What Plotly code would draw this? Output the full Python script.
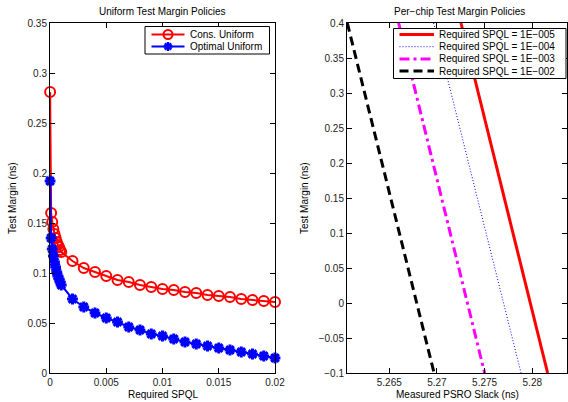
import plotly.graph_objects as go

# ---- Left panel data ----
spql = [1e-5, 1e-4, 2e-4, 3e-4, 4e-4, 5e-4, 6e-4, 7e-4, 8e-4, 9e-4, 1e-3,
        0.002, 0.003, 0.004, 0.005, 0.006, 0.007, 0.008, 0.009, 0.010,
        0.011, 0.012, 0.013, 0.014, 0.015, 0.016, 0.017, 0.018, 0.019, 0.020]
cons_uniform = [0.281, 0.160, 0.151, 0.144, 0.139, 0.135, 0.131, 0.128, 0.126, 0.123, 0.121,
                0.112, 0.105, 0.101, 0.097, 0.093, 0.091, 0.088, 0.086, 0.084,
                0.083, 0.081, 0.080, 0.078, 0.077, 0.076, 0.074, 0.073, 0.072, 0.071]
optimal_uniform = [0.192, 0.135, 0.124, 0.117, 0.111, 0.106, 0.101, 0.097, 0.094, 0.091, 0.088,
                   0.074, 0.066, 0.060, 0.055, 0.051, 0.046, 0.043, 0.039, 0.037,
                   0.034, 0.031, 0.029, 0.027, 0.025, 0.023, 0.021, 0.019, 0.017, 0.015]

# ---- Right panel data ----
margin_pts = [0.4, -0.1]
slack_1e5 = [5.27252, 5.28161]
slack_1e4 = [5.26965, 5.27882]
slack_1e3 = [5.26598, 5.27500]
slack_1e2 = [5.26060, 5.26970]

left_names = ["Cons. Uniform", "Optimal Uniform"]
right_names = ["Required SPQL = 1E\u2212005", "Required SPQL = 1E\u2212004",
               "Required SPQL = 1E\u2212003", "Required SPQL = 1E\u2212002"]

FONT = "Liberation Sans, Arial, sans-serif"
FS = 10
W, H = 568, 402

def px_x(p):
    return p / W

def px_y(p):
    return 1 - p / H

RED, BLUE, MAG, BLK = "#ff0000", "#0000ff", "#ff00ff", "#000000"

fig = go.Figure()

fig.add_trace(go.Scatter(
    x=spql, y=cons_uniform, name=left_names[0], mode="lines+markers",
    line=dict(color=RED, width=2),
    marker=dict(symbol="circle-open", size=10, color=RED, line=dict(width=2)),
    xaxis="x", yaxis="y", cliponaxis=False, showlegend=False))
fig.add_trace(go.Scatter(
    x=spql, y=optimal_uniform, name=left_names[1], mode="lines+markers",
    line=dict(color=BLUE, width=2),
    marker=dict(symbol="asterisk-open", size=9, color=BLUE, line=dict(width=3, color=BLUE)),
    xaxis="x", yaxis="y", cliponaxis=False, showlegend=False))

right_styles = [(RED, 3, "solid"), (BLUE, 1, "1px,2px"),
                (MAG, 3, "10px,4px,3px,4px"), (BLK, 3, "9px,5px")]
right_data = [slack_1e5, slack_1e4, slack_1e3, slack_1e2]
for name, xs, (col, w, dash) in zip(right_names, right_data, right_styles):
    fig.add_trace(go.Scatter(
        x=xs, y=margin_pts, name=name, mode="lines",
        line=dict(color=col, width=w, dash=dash),
        xaxis="x2", yaxis="y2", showlegend=False))

ax_common = dict(showline=True, linecolor="black", linewidth=1, mirror="ticks",
                 ticks="inside", ticklen=5, tickcolor="black", showgrid=False,
                 zeroline=False, automargin=False,
                 tickfont=dict(family=FONT, size=FS, color="#222"))

y0, y1 = px_y(373), px_y(23)
fig.update_layout(
    width=W, height=H, margin=dict(l=0, r=0, t=0, b=0, autoexpand=False),
    paper_bgcolor="white", plot_bgcolor="white",
    font=dict(family=FONT, size=FS, color="black"),
    showlegend=False,
    xaxis=dict(domain=[px_x(50), px_x(275)], range=[0, 0.02], dtick=0.005, tick0=0,
               anchor="y", **ax_common),
    yaxis=dict(domain=[y0, y1], range=[0, 0.35], dtick=0.05, tick0=0,
               anchor="x", **ax_common),
    xaxis2=dict(domain=[px_x(347), px_x(567)], range=[5.26057, 5.28364], dtick=0.005,
                tick0=5.265, anchor="y2", **ax_common),
    yaxis2=dict(domain=[y0, y1], range=[-0.1, 0.4], dtick=0.05, tick0=0,
                anchor="x2", **ax_common),
)

annos = [
    dict(text="Uniform Test Margin Policies", x=px_x(162.5), y=px_y(11)),
    dict(text="Per\u2212chip Test Margin Policies", x=px_x(459), y=px_y(11)),
    dict(text="Required SPQL", x=px_x(162.5), y=px_y(394)),
    dict(text="Measured PSRO Slack (ns)", x=px_x(457), y=px_y(394)),
    dict(text="Test Margin (ns)", x=px_x(12), y=px_y(198), textangle=-90),
    dict(text="Test Margin (ns)", x=px_x(304), y=px_y(198), textangle=-90),
]
for a in annos:
    fig.add_annotation(xref="paper", yref="paper", showarrow=False,
                       xanchor="center", yanchor="middle",
                       font=dict(family=FONT, size=FS, color="black"), **a)

# ---- Legends (drawn to match the compact MATLAB legend boxes) ----
def legend_box(x0, y0_, x1, y1_):
    fig.add_shape(type="rect", xref="paper", yref="paper",
                  x0=px_x(x0), x1=px_x(x1), y0=px_y(y1_), y1=px_y(y0_),
                  line=dict(color="black", width=1), fillcolor="white", layer="above")

def legend_line(xa, xb, y, col, w, dash):
    fig.add_shape(type="line", xref="paper", yref="paper",
                  x0=px_x(xa), x1=px_x(xb), y0=px_y(y), y1=px_y(y),
                  line=dict(color=col, width=w, dash=dash), layer="above")

def legend_text(x, y, text):
    fig.add_annotation(xref="paper", yref="paper", showarrow=False,
                       x=px_x(x), y=px_y(y), xanchor="left", yanchor="middle",
                       text=text, font=dict(family=FONT, size=FS, color="black"))

# left legend
legend_box(145, 26.5, 269.5, 54)
rows_l = [34.5, 46.5]
legend_line(151.5, 184.5, rows_l[0], RED, 2, "solid")
fig.add_shape(type="circle", xref="paper", yref="paper", xsizemode="pixel", ysizemode="pixel",
              xanchor=px_x(168), yanchor=px_y(rows_l[0]), x0=-4.5, x1=4.5, y0=-4.5, y1=4.5,
              line=dict(color=RED, width=2), layer="above")
legend_line(151.5, 184.5, rows_l[1], BLUE, 2, "solid")
for (dx0, dy0, dx1, dy1) in [(-4.5, 0, 4.5, 0), (0, -4.5, 0, 4.5),
                             (-3.2, -3.2, 3.2, 3.2), (-3.2, 3.2, 3.2, -3.2)]:
    fig.add_shape(type="line", xref="paper", yref="paper", xsizemode="pixel", ysizemode="pixel",
                  xanchor=px_x(168), yanchor=px_y(rows_l[1]), x0=dx0, x1=dx1, y0=dy0, y1=dy1,
                  line=dict(color=BLUE, width=2.5), layer="above")
for r, nm in zip(rows_l, left_names):
    legend_text(187.5, r, nm)

# right legend
legend_box(393.5, 28.5, 566, 78.5)
rows_r = [34.5, 46.7, 58.9, 71.1]
for r, nm, (col, w, dash) in zip(rows_r, right_names, right_styles):
    legend_line(399.5, 434, r, col, w, dash)
    legend_text(436.5, r, nm)

fig.write_html("out.html", config={"displayModeBar": False},
               post_script="document.body.style.margin='0';document.body.style.overflow='hidden';")
